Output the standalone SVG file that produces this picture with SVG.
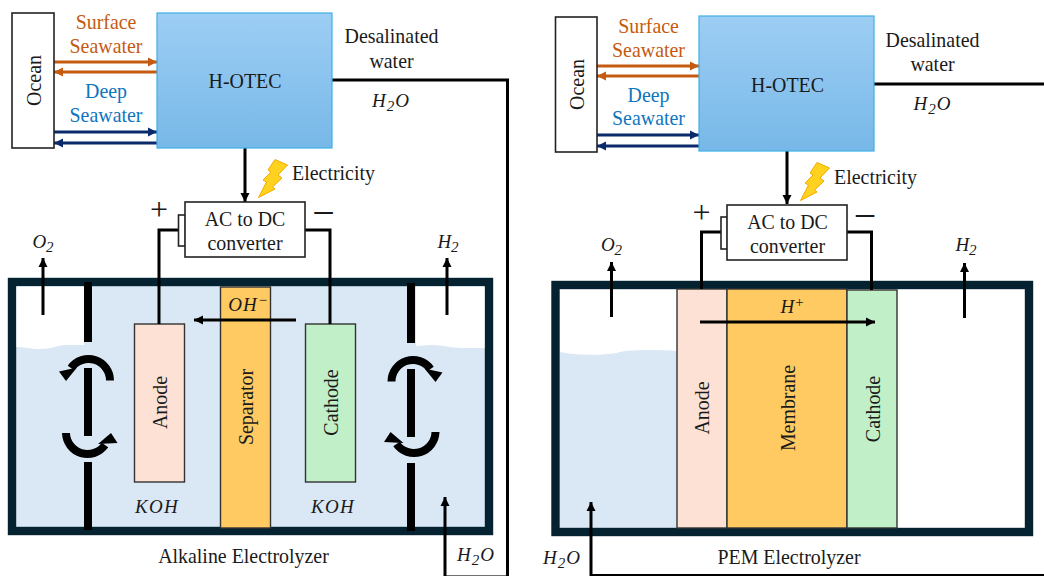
<svg xmlns="http://www.w3.org/2000/svg" width="1044" height="576" viewBox="0 0 1044 576">
<style>
text{font-family:"Liberation Serif","Times New Roman",serif;font-size:19.9px;fill:#1a1a1a;text-anchor:middle}
.m{font-style:italic;font-size:19px}
.s{font-size:15px}
.pm{font-size:32px}
.mn{font-size:40px}
.or{fill:#C55A11}
.bl{fill:#0F75BD}
.box{fill:#fff;stroke:#222;stroke-width:1.6}
.ote{fill:url(#g);stroke:#3FB0E6;stroke-width:1.2}
.tank{fill:#DAE8F5;stroke:#04222F;stroke-width:8.4}
.el{stroke:#333;stroke-width:1.4}
.w{fill:none;stroke:#000;stroke-width:3}
.b{fill:none;stroke:#000;stroke-width:3;marker-end:url(#ah)}
.o{fill:none;stroke:#C55A11;stroke-width:3;marker-end:url(#ao)}
.n{fill:none;stroke:#0A2A6B;stroke-width:3;marker-end:url(#an)}
.bar{fill:#000}
.bolt{fill:#FFD21F;stroke:#F2A900;stroke-width:1}
</style>
<defs>
<linearGradient id="g" x1="0" y1="0" x2="0" y2="1"><stop offset="0" stop-color="#9DCEF4"/><stop offset="1" stop-color="#77B8E8"/></linearGradient>
<marker id="ah" markerUnits="userSpaceOnUse" markerWidth="10" markerHeight="10" refX="9" refY="5" orient="auto"><path d="M0,0.5L9,5L0,9.5z" fill="#000"/></marker>
<marker id="ao" markerUnits="userSpaceOnUse" markerWidth="10" markerHeight="10" refX="9" refY="5" orient="auto"><path d="M0,0.5L9,5L0,9.5z" fill="#C55A11"/></marker>
<marker id="an" markerUnits="userSpaceOnUse" markerWidth="10" markerHeight="10" refX="9" refY="5" orient="auto"><path d="M0,0.5L9,5L0,9.5z" fill="#0A2A6B"/></marker>
<g id="swirlT"><path d="M22,0.500A21.500,21.500 0 0 0 -17,-12" fill="none" stroke="#000" stroke-width="8"/><path d="M-29,-8.500L-11,-12.500L-22,1z" fill="#000"/></g>
<g id="swirlB"><path d="M-22,0A21.500,21.500 0 0 0 17,12" fill="none" stroke="#000" stroke-width="8"/><path d="M23,0L29.500,10L10,11z" fill="#000"/></g>
<path id="bolt" class="bolt" d="M16,0.500L28.500,6L19,16L23,19L13.500,28L16,30L-0.500,38.500L7.500,23L4,21L12,13L9,11z"/>
</defs>

<g id="tank-alkaline">
<rect class="tank" x="12" y="282" width="477" height="249"/>
<path d="M16.500,286.500H84V345L66,345C58,345 52,349 40,349C30,349 24,347 16.500,347z" fill="#fff"/>
<path d="M416,286.500H484.500V348L462,348C450,348 444,345 432,345C426,345 420,346 416,346z" fill="#fff"/>
<path class="bar" d="M84,282h8v60h-8zM84,368h8v68h-8zM84,462h8v68h-8zM407,283h8v60h-8zM407,369h8v68h-8zM407,463h8v68h-8z"/>
<use href="#swirlT" x="88" y="380"/>
<use href="#swirlB" x="88" y="433"/>
<use href="#swirlT" transform="translate(413.500,381) scale(-1,1)"/>
<use href="#swirlB" transform="translate(413.500,432) scale(-1,1)"/>
<text class="m" x="157" y="513" letter-spacing="1.300">KOH</text>
<text class="m" x="333" y="513" letter-spacing="1.300">KOH</text>
<text x="243.500" y="562.500">Alkaline Electrolyzer</text>
</g>
<g id="anode-alkaline"><rect class="el" x="134.500" y="324" width="50" height="158" fill="#FCE1D4"/><text transform="translate(166.500,402.500) rotate(-90)" x="0" y="0">Anode</text></g>
<g id="separator-alkaline"><rect class="el" x="220.500" y="287" width="50" height="241" fill="#FFCA62"/><text transform="translate(253,407) rotate(-90)" x="0" y="0">Separator</text></g>
<g id="cathode-alkaline"><rect class="el" x="305.500" y="324" width="50" height="158" fill="#C1F0C8"/><text transform="translate(338,402.500) rotate(-90)" x="0" y="0">Cathode</text></g>

<g id="tank-pem">
<path d="M560,288H1025V528H560z" fill="#fff"/>
<path d="M560,352C575,355 600,356 617,353C622,350 650,349 677,351V528H560z" fill="#DAE8F5"/>
<rect x="555.500" y="285" width="473.500" height="247" fill="none" stroke="#04222F" stroke-width="8.400"/>
<text x="789" y="564">PEM Electrolyzer</text>
</g>
<g id="anode-pem"><rect class="el" x="677" y="289" width="50" height="239" fill="#FCE1D4"/><text transform="translate(709,408) rotate(-90)" x="0" y="0">Anode</text></g>
<g id="membrane-pem"><rect class="el" x="727" y="289" width="120" height="239" fill="#FFCA62"/><text transform="translate(794.500,408) rotate(-90)" x="0" y="0">Membrane</text></g>
<g id="cathode-pem"><rect class="el" x="847" y="290" width="50" height="238" fill="#C1F0C8"/><text transform="translate(879.500,409) rotate(-90)" x="0" y="0">Cathode</text></g>

<g id="connectors">
<path class="o" d="M54,62H157"/><path class="o" d="M157,72H54"/>
<path class="n" d="M54,132H157"/><path class="n" d="M157,143H54"/>
<path class="w" d="M332,80H507.500V576"/>
<path class="b" d="M245,148V202"/>
<path class="w" d="M179,230H159V324"/>
<path class="w" d="M305,230H330V324"/>
<path class="b" d="M296,320H194"/>
<path class="b" d="M43,315V258"/>
<path class="b" d="M447,315V258"/>
<path class="b" d="M445,576V497"/>
<path d="M445,575.800H507" fill="none" stroke="#000" stroke-width="0.800"/>

<path class="o" d="M597,66H699"/><path class="o" d="M699,76H597"/>
<path class="n" d="M597,135H699"/><path class="n" d="M699,146H597"/>
<path class="w" d="M874,84H1044"/>
<path class="b" d="M787,151V204"/>
<path class="w" d="M721,232H701.500V289"/>
<path class="w" d="M847,232H871.500V290"/>
<path class="b" d="M700,322H875"/>
<path class="b" d="M611.500,317V262"/>
<path class="b" d="M964.500,318V263"/>
<path class="w" style="stroke-width:2" d="M591,575H1044"/>
<path class="b" d="M591,576V502"/>
</g>

<g id="ocean-left"><rect class="box" x="12" y="13" width="42" height="135"/><text transform="translate(41,80.500) rotate(-90)" x="0" y="0">Ocean</text></g>
<g id="hotec-left"><rect class="ote" x="157" y="13" width="175" height="135"/><text x="245" y="88">H-OTEC</text></g>
<g id="converter-left"><rect class="box" x="178.500" y="215" width="7" height="31"/><rect class="box" x="185" y="202" width="120" height="55"/><text x="245" y="225.500">AC to DC</text><text x="245" y="249.500">converter</text></g>
<g id="labels-left">
<text class="or" x="106" y="29">Surface</text><text class="or" x="106" y="53">Seawater</text>
<text class="bl" x="106" y="98">Deep</text><text class="bl" x="106" y="122">Seawater</text>
<text x="391.500" y="42.500">Desalinated</text><text x="391.500" y="67.500">water</text>
<text class="m" x="391" y="106.500" letter-spacing="1">H<tspan class="s" dy="4">2</tspan><tspan dy="-4">O</tspan></text>
<use href="#bolt" x="259" y="159"/>
<text x="333.500" y="180">Electricity</text>
<text class="pm" x="159" y="220">+</text>
<text class="mn" x="323.500" y="225.500">−</text>
<text class="m" x="43" y="248">O<tspan class="s" dy="4">2</tspan></text>
<text class="m" x="448" y="248">H<tspan class="s" dy="4">2</tspan></text>
<text class="m" x="248.500" y="311" letter-spacing="1">OH<tspan class="s" dy="-6">−</tspan></text>
<text class="m" x="476" y="561" letter-spacing="1">H<tspan class="s" dy="4">2</tspan><tspan dy="-4">O</tspan></text>
</g>

<g id="ocean-right"><rect class="box" x="555.500" y="17" width="41.500" height="135"/><text transform="translate(584,84.500) rotate(-90)" x="0" y="0">Ocean</text></g>
<g id="hotec-right"><rect class="ote" x="699" y="16" width="175" height="135"/><text x="787.500" y="91.500">H-OTEC</text></g>
<g id="converter-right"><rect class="box" x="721" y="217" width="6.500" height="32"/><rect class="box" x="727" y="205" width="120" height="55"/><text x="787.500" y="228.500">AC to DC</text><text x="787.500" y="252.500">converter</text></g>
<g id="labels-right">
<text class="or" x="648.500" y="32.500">Surface</text><text class="or" x="648.500" y="56.500">Seawater</text>
<text class="bl" x="648.500" y="101.500">Deep</text><text class="bl" x="648.500" y="125">Seawater</text>
<text x="932.500" y="46.500">Desalinated</text><text x="932.500" y="70.500">water</text>
<text class="m" x="932.500" y="110" letter-spacing="1">H<tspan class="s" dy="4">2</tspan><tspan dy="-4">O</tspan></text>
<use href="#bolt" x="801" y="162"/>
<text x="875.500" y="183.500">Electricity</text>
<text class="pm" x="701.500" y="223">+</text>
<text class="mn" x="865" y="228.500">−</text>
<text class="m" x="611.500" y="251">O<tspan class="s" dy="4">2</tspan></text>
<text class="m" x="966" y="251">H<tspan class="s" dy="4">2</tspan></text>
<text class="m" x="792.500" y="313">H<tspan class="s" dy="-6">+</tspan></text>
<text class="m" x="562" y="564" letter-spacing="1">H<tspan class="s" dy="4">2</tspan><tspan dy="-4">O</tspan></text>
</g>
</svg>
